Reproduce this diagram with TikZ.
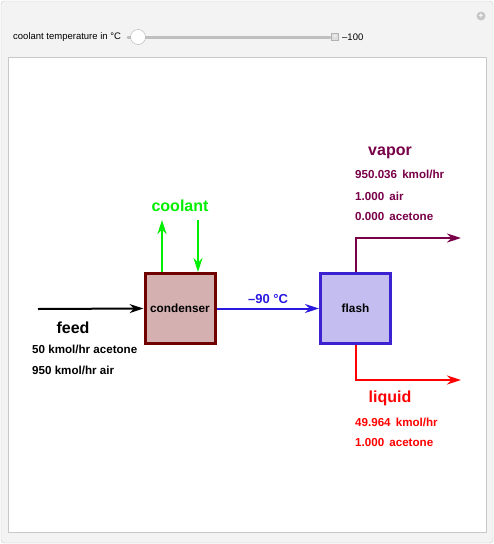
\documentclass[tikz,border=0pt]{standalone}
\usepackage{fontspec}
\setmainfont{Liberation Sans}
\usetikzlibrary{arrows.meta}
\definecolor{panelgray}{HTML}{F3F3F3}
\definecolor{framegray}{HTML}{C8C8C8}
\definecolor{condfill}{HTML}{D4B0B0}
\definecolor{conddraw}{HTML}{700000}
\definecolor{flashfill}{HTML}{C4BDF0}
\definecolor{flashdraw}{HTML}{3A22D0}
\definecolor{vapcol}{HTML}{780048}
\definecolor{liqcol}{HTML}{FF0000}
\definecolor{coolcol}{HTML}{00EE00}
\definecolor{tempcol}{HTML}{2A1AE0}
\begin{document}
\begin{tikzpicture}[x=1pt,y=-1pt,
  unitbox/.style={minimum width=70pt,minimum height=70pt,line width=3pt,inner sep=0pt,font=\fontsize{11.8}{13}\selectfont\bfseries},
  bigtxt/.style={font=\fontsize{16}{18}\selectfont\bfseries},
  smalltxt/.style={font=\fontsize{11.6}{13}\selectfont\bfseries,anchor=west,inner sep=0pt},
  flow/.style={line width=2pt,-{Stealth[length=14pt,width=9pt]}}]
\useasboundingbox (0,0) rectangle (494,544);
\fill[white] (0,0) rectangle (494,544);
\draw[framegray,fill=panelgray,rounded corners=3pt] (1,1) rectangle (493,543);
\draw[framegray,fill=white] (8,57) rectangle (486,532);
% control bar
\node[anchor=west,inner sep=0pt,font=\fontsize{9.5}{11}\selectfont] (lbl) at (13,37) {coolant temperature in °C};
\coordinate (trackL) at (128,37);
\coordinate (trackR) at (330,37);
\draw[line width=3pt,color=gray!50,line cap=round] (trackL) -- (trackR);
\node[circle,draw=gray!60,fill=white,minimum size=15pt,inner sep=0pt] (knob) at (138,37) {};
\node[draw=gray!60,fill=gray!25,minimum size=7pt,inner sep=0pt,font=\fontsize{6}{6}\selectfont,text=white] (plusbox) at (335,37) {+};
\node[anchor=west,inner sep=0pt,font=\fontsize{9.5}{11}\selectfont] (val) at (342,37) {–100};
\node[circle,fill=gray!45,minimum size=9pt,inner sep=0pt,text=white,font=\fontsize{8}{8}\selectfont\bfseries] (addicon) at (481,16) {+};
% units
\node[unitbox,draw=conddraw,fill=condfill] (cond) at (180,308.5) {condenser};
\node[unitbox,draw=flashdraw,fill=flashfill] (flash) at (355.5,308.5) {flash};
% feed
\coordinate (feedin) at (38,309);
\draw[flow,black] (feedin) -- (cond.west);
\node[bigtxt] (feedlbl) at (73,328) {feed};
\node[smalltxt] (feed1) at (32,349) {50 kmol/hr acetone};
\node[smalltxt] (feed2) at (32,370) {950 kmol/hr air};
% coolant
\coordinate (coolout) at (162,220);
\coordinate (coolin) at (198,220);
\draw[flow,coolcol] (cond.north -| coolout) -- (coolout);
\draw[flow,coolcol] (coolin) -- (cond.north -| coolin);
\node[bigtxt,text=coolcol] (coollbl) at (180,206) {coolant};
% condenser to flash
\draw[flow,tempcol] (cond.east) -- (flash.west);
\node[font=\fontsize{13}{15}\selectfont\bfseries,text=tempcol] (templbl) at (268,299) {–90 °C};
% vapor
\coordinate (vapend) at (461,238);
\draw[flow,vapcol] (flash.north) |- (vapend);
\node[bigtxt,text=vapcol] (vaplbl) at (390,153) {vapor};
\node[smalltxt,text=vapcol] (vap1) at (355,174) {950.036\, kmol/hr};
\node[smalltxt,text=vapcol] (vap2) at (355,196) {1.000\, air};
\node[smalltxt,text=vapcol] (vap3) at (355,217) {0.000\, acetone};
% liquid
\coordinate (liqend) at (461,380);
\draw[flow,liqcol] (flash.south) |- (liqend);
\node[bigtxt,text=liqcol] (liqlbl) at (390,398) {liquid};
\node[smalltxt,text=liqcol] (liq1) at (355,422) {49.964\, kmol/hr};
\node[smalltxt,text=liqcol] (liq2) at (355,443) {1.000\, acetone};
\end{tikzpicture}
\end{document}
